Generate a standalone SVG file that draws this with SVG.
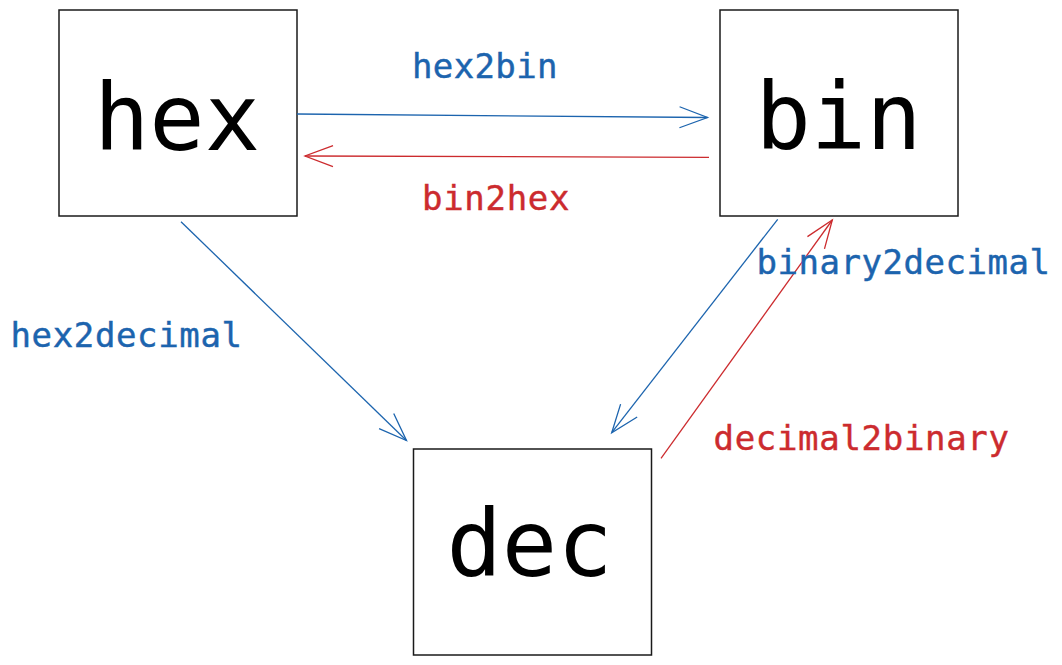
<svg xmlns="http://www.w3.org/2000/svg" width="1062" height="665" viewBox="0 0 1062 665">
<style>
.box{fill:#fff;stroke:#1a1a1a;stroke-width:1.5}
.big{font-family:"DejaVu Sans Mono","Liberation Mono",monospace;font-size:92px;fill:#000;text-anchor:middle}
.lbl{font-family:"DejaVu Sans Mono","Liberation Mono",monospace;font-size:34px;stroke-width:0.45}
.blue{fill:#1c64ae;stroke:#1c64ae}
.red{fill:#cc2b2e;stroke:#cc2b2e}
.cb{stroke:#1c64ae;stroke-width:1.3;fill:none}
.cr{stroke:#cc2b2e;stroke-width:1.3;fill:none}
</style>
<defs>
<marker id="ab" markerUnits="userSpaceOnUse" markerWidth="1" markerHeight="1" refX="0" refY="0" orient="auto" overflow="visible">
<path d="M-28,-10.5 L0,0 L-28,10.5" fill="none" stroke="#1c64ae" stroke-width="1.3"/>
</marker>
<marker id="ar" markerUnits="userSpaceOnUse" markerWidth="1" markerHeight="1" refX="0" refY="0" orient="auto" overflow="visible">
<path d="M-28,-10.5 L0,0 L-28,10.5" fill="none" stroke="#cc2b2e" stroke-width="1.3"/>
</marker>
</defs>
<rect width="1062" height="665" fill="#fff"/>
<g id="hex">
<rect class="box" x="59" y="10" width="238" height="206"/>
<text class="big" x="177" y="150">hex</text>
</g>
<g id="bin">
<rect class="box" x="720" y="10" width="238" height="206"/>
<text class="big" x="838.5" y="149">bin</text>
</g>
<g id="dec">
<rect class="box" x="413.5" y="449" width="238" height="206"/>
<text class="big" x="529.5" y="576">dec</text>
</g>
<g id="connectors">
<line class="cb" x1="297" y1="114" x2="707.5" y2="117.5" marker-end="url(#ab)"/>
<line class="cr" x1="709" y1="157.3" x2="305" y2="156" marker-end="url(#ar)"/>
<line class="cb" x1="181" y1="221.7" x2="406.5" y2="440.5" marker-end="url(#ab)"/>
<line class="cb" x1="777.7" y1="219.3" x2="611.7" y2="432.7" marker-end="url(#ab)"/>
<line class="cr" x1="661" y1="458.3" x2="832.3" y2="220" marker-end="url(#ar)"/>
<text class="lbl blue" x="412" y="78" textLength="145.5" lengthAdjust="spacing">hex2bin</text>
<text class="lbl red" x="422" y="210" textLength="147.5" lengthAdjust="spacing">bin2hex</text>
<text class="lbl blue" x="10.5" y="347" textLength="231.5" lengthAdjust="spacing">hex2decimal</text>
<text class="lbl blue" x="756.5" y="274" textLength="293.5" lengthAdjust="spacing">binary2decimal</text>
<text class="lbl red" x="713.5" y="450" textLength="295.5" lengthAdjust="spacing">decimal2binary</text>
</g>
</svg>
